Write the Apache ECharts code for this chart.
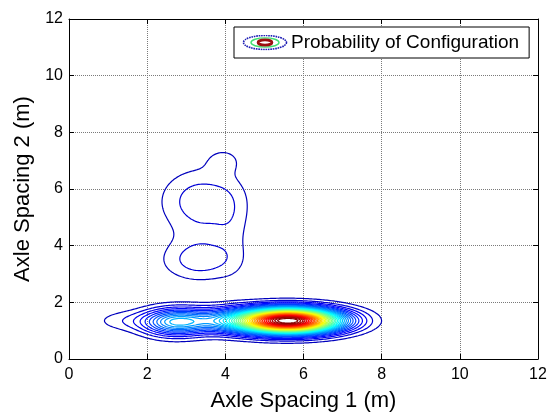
<!DOCTYPE html>
<html>
<head>
<meta charset="utf-8">
<script src="https://cdn.jsdelivr.net/npm/echarts@6/dist/echarts.min.js"></script>
<style>
  html, body { margin: 0; padding: 0; background: #fff; }
  #chart { width: 554px; height: 415px; }
</style>
</head>
<body>
<div id="chart"></div>
<script>
// axis range / ticks
const axisMin = 0;
const axisMax = 12;
const tickStep = 2;

// humps of the probability surface
// main band (y ~ 1.35) then the upper "8" shaped island
const humpX  = [5.7, 4.5, 2.7, 1.4, 3.4, 4.0, 3.35, 4.2, 3.4, 3.95];
const humpY  = [1.35, 1.35, 1.3, 1.35, 5.55, 5.4, 3.5, 4.5, 4.45, 7.0];
const humpSx = [0.85, 1.1, 0.55, 0.55, 0.72, 0.25, 0.65, 0.3, 0.6, 0.3];
const humpSy = [0.29, 0.3, 0.32, 0.25, 0.78, 0.6, 0.5, 1.1, 0.35, 0.3];
const humpH  = [20, 5, 5, 0.75, 1.5, 0.1, 1.45, 0.4, 0.15, 0.7];

// contour levels
const levels = [0.55, 1.1, 1.65, 2.2, 2.75, 3.3, 3.85, 4.4, 4.95, 5.5,
  6.05, 6.6, 7.15, 7.7, 8.25, 8.8, 9.35, 9.9, 10.45, 11.0,
  11.55, 12.1, 12.65, 13.2, 13.75, 14.3, 14.85, 15.4, 15.95, 16.5,
  17.05, 17.6, 18.15, 18.7, 19.25, 19.8, 20.35, 20.9, 21.45, 22.0];

const seriesName = "Probability of Configuration";

const dens = (x, y) => {
  let v = 0;
  for (let k = 0; k < humpX.length; k++) {
    const dx = (x - humpX[k]) / humpSx[k];
    const dy = (y - humpY[k]) / humpSy[k];
    v += humpH[k] * Math.exp(-0.5 * (dx * dx + dy * dy));
  }
  return v;
};

// sample grid
const gStep = 0.04;
const gN = Math.round((axisMax - axisMin) / gStep) + 1;
const gx = [];
for (let i = 0; i < gN; i++) gx.push(axisMin + i * gStep);
const field = [];
for (let j = 0; j < gN; j++) {
  const row = new Float64Array(gN);
  for (let i = 0; i < gN; i++) row[i] = dens(gx[i], gx[j]);
  field.push(row);
}

// marching squares -> polylines
const contourPaths = (lev) => {
  const pts = {};
  const segs = [];
  const edge = (kind, i, j) => {
    const key = kind + i + "_" + j;
    if (!pts[key]) {
      let a, b, x0, y0, x1, y1;
      if (kind === "h") {
        a = field[j][i]; b = field[j][i + 1];
        x0 = gx[i]; x1 = gx[i + 1]; y0 = y1 = gx[j];
      } else {
        a = field[j][i]; b = field[j + 1][i];
        x0 = x1 = gx[i]; y0 = gx[j]; y1 = gx[j + 1];
      }
      const t = (lev - a) / (b - a);
      pts[key] = [x0 + t * (x1 - x0), y0 + t * (y1 - y0)];
    }
    return key;
  };
  for (let j = 0; j < gN - 1; j++) {
    for (let i = 0; i < gN - 1; i++) {
      const a = field[j][i] > lev, b = field[j][i + 1] > lev;
      const c = field[j + 1][i + 1] > lev, d = field[j + 1][i] > lev;
      const idx = (a ? 1 : 0) | (b ? 2 : 0) | (c ? 4 : 0) | (d ? 8 : 0);
      if (idx === 0 || idx === 15) continue;
      const cross = [];
      if (a !== b) cross.push(edge("h", i, j));
      if (b !== c) cross.push(edge("v", i + 1, j));
      if (c !== d) cross.push(edge("h", i, j + 1));
      if (d !== a) cross.push(edge("v", i, j));
      if (cross.length === 2) {
        segs.push(cross);
      } else {
        const center = (field[j][i] + field[j][i + 1] + field[j + 1][i + 1] + field[j + 1][i]) / 4 > lev;
        const B = edge("h", i, j), R = edge("v", i + 1, j), T = edge("h", i, j + 1), L = edge("v", i, j);
        if ((idx === 5) === center) { segs.push([B, R]); segs.push([T, L]); }
        else { segs.push([B, L]); segs.push([R, T]); }
      }
    }
  }
  const adj = {};
  segs.forEach((s, k) => {
    (adj[s[0]] = adj[s[0]] || []).push(k);
    (adj[s[1]] = adj[s[1]] || []).push(k);
  });
  const used = new Uint8Array(segs.length);
  const grow = (arr) => {
    for (;;) {
      const end = arr[arr.length - 1];
      const nx = (adj[end] || []).find((m) => !used[m]);
      if (nx === undefined) break;
      used[nx] = 1;
      const s = segs[nx];
      arr.push(s[0] === end ? s[1] : s[0]);
    }
  };
  const paths = [];
  for (let k = 0; k < segs.length; k++) {
    if (used[k]) continue;
    used[k] = 1;
    const chain = [segs[k][0], segs[k][1]];
    grow(chain);
    const back = [chain[0]];
    grow(back);
    paths.push(back.reverse().concat(chain.slice(1)).map((key) => pts[key]));
  }
  return paths;
};

// matlab jet colormap
const jet = (t) => {
  const cl = (v) => Math.round(255 * Math.max(0, Math.min(1, v)));
  return "rgb(" + cl(1.5 - Math.abs(4 * t - 3)) + "," + cl(1.5 - Math.abs(4 * t - 2)) + "," + cl(1.5 - Math.abs(4 * t - 1)) + ")";
};

const lineData = [];
levels.forEach((lev, k) => {
  const color = jet(0.06 + 0.94 * k / (levels.length - 1));
  contourPaths(lev).forEach((p) => {
    lineData.push({ coords: p, lineStyle: { color: color } });
  });
});

const legendSvg =
  '<svg xmlns="http://www.w3.org/2000/svg" width="46" height="16" viewBox="0 0 46 16">' +
  '<ellipse cx="23" cy="8" rx="21.5" ry="7" fill="none" stroke="#1c1cb4" stroke-width="1.6" stroke-dasharray="1.6 0.8"/>' +
  '<ellipse cx="23" cy="8" rx="14" ry="4.6" fill="none" stroke="#40e070" stroke-width="1.4"/>' +
  '<ellipse cx="23" cy="8" rx="7" ry="2.6" fill="none" stroke="#9c1010" stroke-width="2.6"/>' +
  "</svg>";

const fontFamily = "'Liberation Sans', Arial, sans-serif";

const axisCommon = {
  type: "value",
  min: axisMin,
  max: axisMax,
  interval: tickStep,
  axisLine: { show: true, onZero: false, lineStyle: { color: "#000", width: 1 } },
  axisTick: { show: true, inside: true, length: 5, lineStyle: { color: "#000" } },
};

const chart = echarts.init(document.getElementById("chart"));
chart.setOption({
  animation: false,
  backgroundColor: "#fff",
  grid: {
    left: 69,
    right: 16,
    top: 19,
    bottom: 56,
    containLabel: false,
    outerBoundsMode: "none",
  },
  legend: {
    left: 234,
    top: 27,
    orient: "horizontal",
    backgroundColor: "#fff",
    borderColor: "#000",
    borderWidth: 1,
    borderRadius: 0,
    padding: [6, 10, 6, 8],
    itemWidth: 46,
    itemHeight: 16,
    itemGap: 2,
    symbolKeepAspect: false,
    data: [{ name: seriesName, icon: "image://data:image/svg+xml;charset=utf-8," + encodeURIComponent(legendSvg) }],
    textStyle: { color: "#000", fontSize: 19, fontFamily: fontFamily, padding: [0, 0, 0, -2] },
  },
  xAxis: [
    Object.assign({}, axisCommon, {
      position: "bottom",
      name: "Axle Spacing 1 (m)",
      nameLocation: "middle",
      nameGap: 31,
      nameTextStyle: { color: "#000", fontSize: 22, fontFamily: fontFamily },
      axisLabel: { color: "#000", fontSize: 16, fontFamily: fontFamily, margin: 8 },
      splitLine: { show: true, lineStyle: { color: "#7a7a7a", type: "dotted", width: 1 } },
    }),
    Object.assign({}, axisCommon, {
      position: "top",
      axisLabel: { show: false },
      splitLine: { show: false },
    }),
  ],
  yAxis: [
    Object.assign({}, axisCommon, {
      position: "left",
      name: "Axle Spacing 2 (m)",
      nameLocation: "middle",
      nameGap: 35,
      nameTextStyle: { color: "#000", fontSize: 22, fontFamily: fontFamily },
      axisLabel: { color: "#000", fontSize: 16, fontFamily: fontFamily, margin: 6 },
      splitLine: { show: true, lineStyle: { color: "#7a7a7a", type: "dotted", width: 1 } },
    }),
    Object.assign({}, axisCommon, {
      position: "right",
      axisLabel: { show: false },
      splitLine: { show: false },
    }),
  ],
  series: [
    {
      name: seriesName,
      type: "lines",
      coordinateSystem: "cartesian2d",
      polyline: true,
      large: false,
      silent: true,
      xAxisIndex: 0,
      yAxisIndex: 0,
      lineStyle: { width: 1.2, opacity: 1 },
      data: lineData,
    },
  ],
});
</script>
</body>
</html>
